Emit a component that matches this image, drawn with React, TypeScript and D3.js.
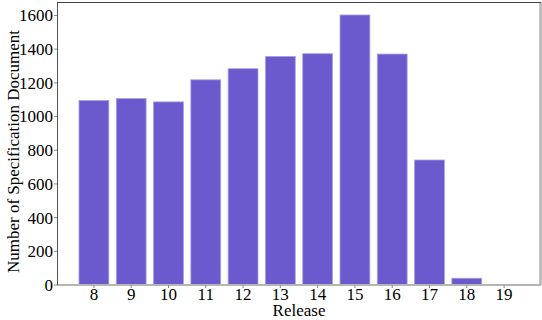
import React, { useEffect, useRef } from "react";
import * as d3 from "d3";

const releases = ["8", "9", "10", "11", "12", "13", "14", "15", "16", "17", "18", "19"];
const docCounts = [1095, 1107, 1087, 1218, 1284, 1357, 1373, 1603, 1371, 742, 40, 2];
const yTicks = [0, 200, 400, 600, 800, 1000, 1200, 1400, 1600];

const App = () => {
  const svgRef = useRef<SVGSVGElement>(null);

  useEffect(() => {
    const width = 542;
    const height = 320;
    const margin = { top: 2, right: 1, bottom: 35, left: 57 };

    const svg = d3.select(svgRef.current);
    svg.selectAll("*").remove();
    svg.attr("width", width).attr("height", height)
      .style("font-family", "Liberation Serif, Times New Roman, serif");

    const x = d3.scaleLinear()
      .domain([-0.99, releases.length - 1 + 0.99])
      .range([margin.left, width - margin.right]);

    const y = d3.scaleLinear()
      .domain([0, 1680])
      .range([height - margin.bottom, margin.top]);

    const barW = x(0.8) - x(0);

    // bars
    svg.selectAll("rect.bar")
      .data(docCounts)
      .enter()
      .append("rect")
      .attr("class", "bar")
      .attr("x", (d, i) => x(i) - barW / 2)
      .attr("y", d => y(d))
      .attr("width", barW)
      .attr("height", d => y(0) - y(d))
      .attr("fill", "#6a5acd")
      .attr("stroke", "#a89ee6")
      .attr("stroke-width", 0.8);

    // spines
    const x0 = x.range()[0], x1 = x.range()[1];
    const y0 = y.range()[0], y1 = y.range()[1];
    svg.append("line").attr("x1", x0).attr("x2", x1).attr("y1", y0).attr("y2", y0)
      .attr("stroke", "#b5b5b5").attr("stroke-width", 2);
    svg.append("line").attr("x1", x1 - 0.5).attr("x2", x1 - 0.5).attr("y1", y1).attr("y2", y0)
      .attr("stroke", "#b5b5b5").attr("stroke-width", 2.5);
    svg.append("line").attr("x1", x0).attr("x2", x1).attr("y1", y1 + 0.5).attr("y2", y1 + 0.5)
      .attr("stroke", "#444").attr("stroke-width", 1.2);
    svg.append("line").attr("x1", x0 + 0.5).attr("x2", x0 + 0.5).attr("y1", y1).attr("y2", y0)
      .attr("stroke", "#555").attr("stroke-width", 1);

    // y axis ticks
    const yg = svg.append("g");
    yTicks.forEach(t => {
      yg.append("line")
        .attr("x1", x0 - 3).attr("x2", x0).attr("y1", y(t)).attr("y2", y(t))
        .attr("stroke", "#888").attr("stroke-width", 1);
      yg.append("text")
        .attr("x", x0 - 4)
        .attr("y", y(t))
        .attr("dy", "0.35em")
        .attr("text-anchor", "end")
        .attr("font-size", 17)
        .attr("fill", "#000")
        .text(t);
    });

    // x axis ticks
    const xg = svg.append("g");
    releases.forEach((r, i) => {
      xg.append("line")
        .attr("x1", x(i)).attr("x2", x(i)).attr("y1", y0).attr("y2", y0 + 3)
        .attr("stroke", "#888").attr("stroke-width", 1);
      xg.append("text")
        .attr("x", x(i))
        .attr("y", y0 + 15)
        .attr("text-anchor", "middle")
        .attr("font-size", 17)
        .attr("fill", "#000")
        .text(r);
    });

    svg.append("text")
      .attr("x", (x0 + x1) / 2)
      .attr("y", y0 + 31)
      .attr("text-anchor", "middle")
      .attr("font-size", 17)
      .attr("fill", "#000")
      .text("Release");

    svg.append("text")
      .attr("transform", `translate(19,${(y0 + y1) / 2 + 8}) rotate(-90)`)
      .attr("text-anchor", "middle")
      .attr("font-size", 17)
      .attr("fill", "#000")
      .text("Number of Specification Document");
  }, []);

  return (
    <div style={{ position: "absolute", left: 0, top: 0 }}>
      <svg ref={svgRef}></svg>
    </div>
  );
};

export default App;
